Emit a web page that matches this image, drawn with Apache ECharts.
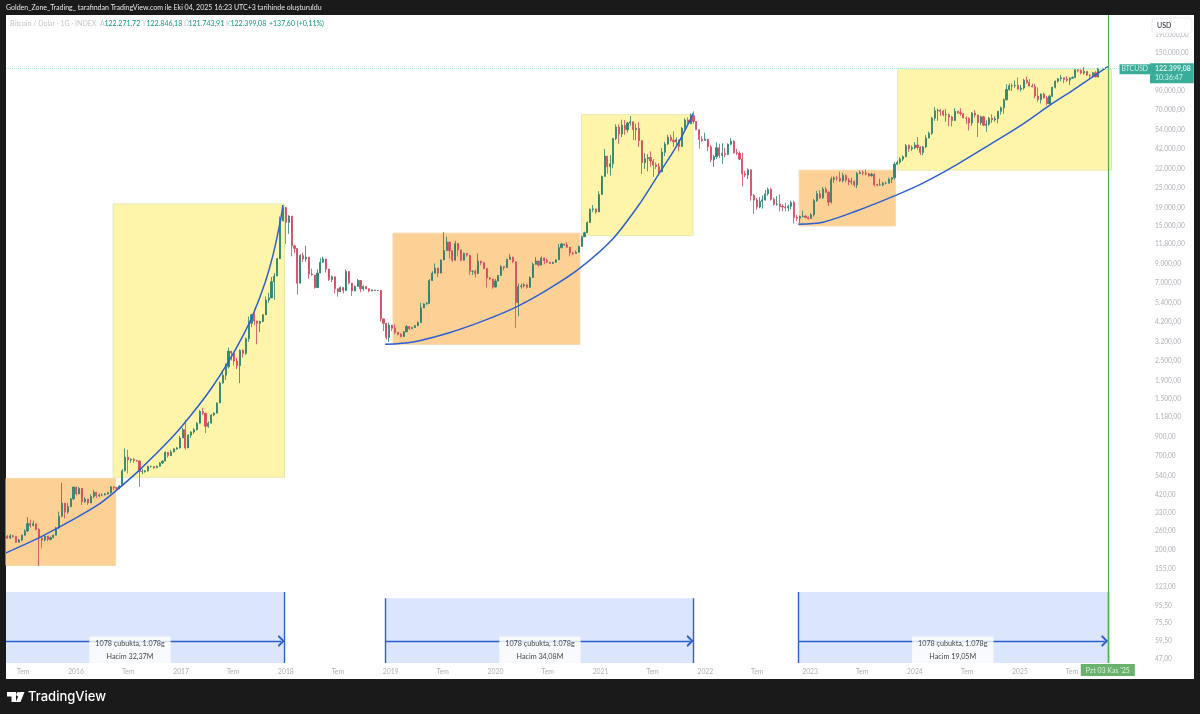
<!DOCTYPE html>
<html>
<head>
<meta charset="utf-8">
<title>BTCUSD</title>
<script src="https://cdn.jsdelivr.net/npm/echarts@6/dist/echarts.min.js"></script>
<style>
html,body{margin:0;padding:0;background:#1a1a1a;}
#main{width:1200px;height:714px;}
</style>
</head>
<body>
<div id="main"></div>
<script>
// 10 day candles, open of a bar is the close of the one before
var firstBar = '2015-05-02';
var firstOpen = 240;
var closes2015 = [235,242,240,222,229,244,258,285,278,284,264,235,229,241,231,236,244,269,314,374,332,357,396,463,423];
var highs2015 = [245,248,245,240,232,246,264,310,300,296,272,268,240,245,235,240,246,273,334,490,340,375,400,465,465];
var lows2015 = [232,232,235,220,222,225,250,255,270,275,260,162,205,225,225,228,237,245,265,310,305,325,355,390,415];
var closes2016 = [455,382,395,375,408,432,413,417,417,422,430,465,460,455,470,575,690,665,670,660,655,570,570,575,610,610,600,612,638,655,735,705,740,770,780,890];
var highs2016 = [465,410,405,395,420,445,430,425,425,428,435,470,465,460,475,590,775,760,680,680,665,660,590,580,615,615,610,615,645,660,745,720,760,775,790,915];
var lows2016 = [425,365,375,365,385,400,400,405,410,415,420,425,445,440,450,470,570,555,640,640,650,465,550,560,570,600,590,598,610,630,680,685,700,735,760,775];
var closes2017 = [995,780,925,965,995,1085,1270,1240,1040,1085,1210,1240,1420,1850,2050,2300,2830,2760,2480,2330,2860,2750,3340,4100,4600,4230,4100,4200,4600,5600,5750,7130,7700,9700,16000,19200,15700];
var highs2017 = [1020,1130,935,975,1015,1100,1290,1330,1120,1110,1225,1255,1430,1890,2190,2400,2980,2790,2590,2590,2900,2900,3400,4480,4650,4980,4200,4250,4620,5860,6150,7600,8000,9800,17000,19800,17400];
var lows2017 = [890,760,870,890,940,985,1180,1210,950,1020,1120,1190,1300,1500,1840,1930,2250,2500,2340,2230,1850,2600,2700,3200,3900,4000,3100,3650,4300,4900,5400,5800,5600,7700,10500,16000,11800];
var closes2018 = [17100,11500,11100,7000,10100,9650,9900,7900,7800,6600,8000,9250,9650,8450,7350,7620,6500,6250,6600,6350,8170,7000,6300,6700,7260,6500,6700,6500,6300,6400,6350,6350,4350,4100,3400,4000];
var highs2018 = [17300,14000,11600,9200,10300,10500,11500,8500,8500,7100,8400,9750,9950,8800,7600,7750,6850,6300,6700,6400,8400,7500,6350,6800,7400,6650,6800,6600,6350,6420,6400,6400,4650,4250,3500,4150];
var lows2018 = [13500,10000,10400,6000,8400,9300,9300,7400,7750,6500,7900,8000,9200,8050,7200,7100,6100,5850,6300,6100,7400,6900,5900,6300,6900,6200,6300,6450,6200,6350,6330,6300,4200,3700,3300,3200];
var closes2019 = [3840,3630,3540,3440,3660,3930,3820,3880,3980,4140,5040,5310,5350,7250,7990,8550,8000,9530,10800,12100,10770,9500,11850,10900,9500,10400,10170,8200,8200,7950,9400,9200,8500,7500,7400,6640,7200];
var highs2019 = [3900,4050,3600,3600,3700,4000,3860,3910,4000,4200,5400,5350,5450,7400,8200,9100,8600,9600,13800,13000,11100,10000,12300,11500,10400,10500,10300,8400,8300,8400,10400,9400,8850,7700,7620,7200,7400];
var lows2019 = [3700,3550,3500,3400,3580,3650,3760,3800,3920,4080,4900,5150,5250,6200,7600,8300,7600,9150,10700,10800,9700,9300,11700,10000,9400,10200,9950,7800,7800,7550,9000,8900,8400,6600,7300,6500,7100];
var closes2020 = [7760,8720,8600,9600,9900,9300,5400,6700,6740,6850,6620,7550,9000,9400,8900,9800,9450,9250,9100,9250,9550,11230,11800,11650,11300,10450,10400,10550,11400,12980,13700,15700,18700,18800,18050,22800,29000];
var highs2020 = [7800,8900,8650,9700,10300,9950,9200,6950,6950,7000,6950,7650,9200,9900,9000,10000,9500,9700,9200,9300,9600,11800,11950,11800,12050,10600,10600,10800,11550,13200,13900,15950,18900,19800,18400,23800,29300];
var lows2020 = [7400,8650,8300,9150,9600,9150,3850,4500,6500,6600,6500,7450,8800,9100,8700,9500,9000,9150,9050,9150,9500,10900,11100,11500,11200,10000,10200,10400,11200,12700,13300,15100,17800,18000,17600,22000,26800];
var closes2021 = [38000,33000,34300,48000,56000,51000,57300,54000,59000,60000,54000,55000,46700,34800,36700,37300,35600,33800,33100,30800,40000,44600,48800,47000,46000,47200,43200,55000,61500,58500,65000,60200,54000,47500,46800,47600];
var highs2021 = [41900,38000,38500,48500,58000,58000,61700,61300,60000,64800,56800,58500,59500,42500,39500,39000,40500,36500,35000,34500,42300,46000,50500,50500,52900,48800,45000,56000,62900,63700,67000,69000,58500,51000,49500,51900];
var lows2021 = [29000,30000,29300,32300,47000,44900,49000,50500,52000,57000,47000,47000,43000,30000,32000,31000,33000,28800,32000,29300,31000,38000,44000,46000,42900,43000,40500,43000,54000,57000,60000,58500,54000,42000,46000,46700];
var closes2022 = [43000,36300,37700,42500,38300,39400,38800,44500,46300,39700,39500,36500,30000,29500,31700,22500,21200,19300,20800,21200,23000,24400,21400,20000,20100,19400,19300,19100,19500,20500,16800,16600,17000,17100,16800,16550,17400];
var highs2022 = [43500,44000,38500,45700,44800,45000,42500,45000,48200,47000,42000,40500,39800,31300,32300,31800,23000,21800,22000,22500,24200,25000,24900,21900,22300,22800,20000,20400,19900,21000,21000,17400,17200,18400,17300,17000,17800];
var lows2022 = [40600,35000,32900,36500,37000,34300,37500,38600,44000,39200,38500,36000,25400,28700,28000,21000,17600,18600,19000,18900,21000,22400,21000,19600,19600,18200,18200,18200,18200,18700,15500,16000,15500,16800,16600,16300,16500];
var closes2023 = [21000,23000,21800,24500,23500,20600,27900,28400,28300,27300,29400,27600,26900,27100,25900,30100,30500,30300,30000,29300,29800,26000,25900,25900,26500,26500,27900,28500,34100,35000,36500,37700,43700,41900,42500,44100];
var highs2023 = [21500,23900,24200,25200,25300,23700,28900,29000,29200,30900,30400,29800,28400,28400,27500,30800,31400,31500,31800,30300,30400,30200,26300,28100,27000,27000,28500,28600,35200,35900,37500,38400,44700,44400,43800,45800];
var lows2023 = [17000,20700,21500,21500,23200,19600,20200,26600,27300,26900,26800,26800,25800,26000,25300,24800,29900,29500,29500,28900,28900,25300,25400,25700,25400,26100,26600,26500,27800,33900,34100,35600,37500,40200,40700,41500];
var closes2024 = [42600,39900,43000,48300,51500,63000,69500,69900,69000,65700,66000,64000,61000,69000,67800,66800,63200,62700,59200,67500,65700,59300,64100,57300,58100,62900,61600,62500,69000,72300,80400,92300,97000,97000,97500,92700,94000];
var highs2024 = [49000,43500,43500,50300,52800,64000,73000,71500,71000,70300,71000,67000,65000,71900,69500,71900,67300,64500,63800,68300,70000,65500,65000,64900,61300,64000,66400,64500,69400,73500,81800,99000,99800,100000,104000,108200,98000];
var lows2024 = [41400,38600,38500,42300,48400,50500,60800,60800,65000,64500,60000,56500,56500,60700,66600,65000,63000,58400,53500,57000,63500,49000,57600,56800,52500,57000,59000,60000,58900,66000,66800,80000,90800,90400,94200,92100,90000];
var closes2025 = [104500,101300,96500,95800,84700,80600,86800,82600,76300,84400,95000,103000,106400,107800,105600,104500,107100,108200,119900,119400,115000,117400,111800,110700,115400,109000,122399];
var highs2025 = [106500,109500,106000,99500,99500,95000,87500,88500,84500,86000,95700,104000,107000,112000,108000,110000,108500,110000,120500,120500,120000,124400,117500,113000,116700,117900,122900];
var lows2025 = [92000,99500,96200,94800,82000,78200,76600,81600,74500,78000,83500,93500,101000,103000,100400,102000,98000,106500,107800,115800,112800,112500,110500,107300,110000,108700,108700];

// blue curves drawn on the chart, read point by point
var curve1 = [['2015-05-02',193],['2015-08-21',234],['2015-10-20',264],['2016-01-15',317],['2016-03-25',373],['2016-05-16',437],['2016-08-04',571],['2016-12-04',910],['2017-02-18',1288],['2017-04-19',1749],['2017-06-14',2443],['2017-08-05',3496],['2017-09-09',4630],['2017-10-21',7085],['2017-11-17',10160],['2017-12-12',15770],['2017-12-22',19770]];
var curve2 = [['2018-12-13',3100],['2019-03-20',3200],['2019-07-27',3630],['2019-12-03',4320],['2020-03-16',5120],['2020-07-09',6550],['2020-10-21',8550],['2021-02-14',12700],['2021-05-19',20310],['2021-07-27',30700],['2021-09-24',43700],['2021-11-09',61400],['2021-11-19',67000]];
var curve3 = [['2022-11-21',15360],['2023-02-15',15760],['2023-06-14',18370],['2023-10-24',22450],['2024-01-29',26520],['2024-05-26',33940],['2024-09-18',44300],['2025-01-11',58220],['2025-04-08',73500],['2025-07-05',91600],['2025-09-02',106600],['2025-11-03',125240]];

// [from, to, low, high]
var orangeBoxes = [['2015-05-02','2016-05-18',163,520],['2019-01-09','2020-10-21',3100,13620],['2022-11-24','2023-10-25',15000,31500]];
var yellowBoxes = [['2016-05-09','2017-12-27',528,20100],['2020-10-27','2021-11-19',13170,66000],['2023-11-02','2025-11-16',31500,121000]];

// date range tools at the bottom: [from, to, top price, arrow price]
var ranges = [['2015-05-02','2017-12-27',114.6,59.6],['2018-12-13','2021-11-20',105.4,59.6],['2022-11-21','2025-11-03',114.6,59.6]];
var rangeLabelDates = ['2016-07-07','2020-06-04','2024-05-12'];
var rangeVolumes = ['32,37','34,08','19,05'];
var rangeLabelPrice = 52.9;

var priceTicks = [190000,150000,90000,70000,54000,42000,32000,25000,19000,15000,11800,9000,7000,5400,4200,3200,2500,1900,1500,1180,900,700,540,420,330,260,200,155,123,95.5,75.5,59.5,47];
var timeTicks = ['2015-07-01','2016-01-01','2016-07-01','2017-01-01','2017-07-01','2018-01-01','2018-07-01','2019-01-01','2019-07-01','2020-01-01','2020-07-01','2021-01-01','2021-07-01','2022-01-01','2022-07-01','2023-01-01','2023-07-01','2024-01-01','2024-07-01','2025-01-01','2025-07-01'];

var lastPrice = 122399.08;
var endDate = '2025-11-03';
var xMin = '2015-05-02', xMax = '2026-03-30';
var yMin = 44.5, yMax = 248800;

var fontName = 'Lato';
var DAY = 86400000;
function t(s){ return Date.parse(s + 'T00:00:00Z'); }
function priceText(v){
    var p = v.toFixed(2).split('.');
    return p[0].replace(/\B(?=(\d{3})+$)/g, '.') + ',' + p[1];
}
function pts(c){ return c.map(function(d){ return [t(d[0]), d[1]]; }); }

var closes = closes2015.concat(closes2016,closes2017,closes2018,closes2019,closes2020,closes2021,closes2022,closes2023,closes2024,closes2025);
var highs = highs2015.concat(highs2016,highs2017,highs2018,highs2019,highs2020,highs2021,highs2022,highs2023,highs2024,highs2025);
var lows = lows2015.concat(lows2016,lows2017,lows2018,lows2019,lows2020,lows2021,lows2022,lows2023,lows2024,lows2025);
var candles = closes.map(function(c, i){
    return [t(firstBar) + (i * 10 + 5) * DAY, i ? closes[i - 1] : firstOpen, c, lows[i], highs[i]];
});

function box(b, fill, border){
    return [{coord:[t(b[0]), b[3]], itemStyle:{color:fill, borderColor:border, borderWidth:1}}, {coord:[t(b[1]), b[2]]}];
}
var areas = [];
orangeBoxes.forEach(function(b){ areas.push(box(b, '#fdd096', '#f3d9a8')); });
yellowBoxes.forEach(function(b){ areas.push(box(b, '#fff5aa', '#e2ebae')); });
ranges.forEach(function(r){
    areas.push([{coord:[t(r[0]), r[2]], itemStyle:{color:'#dbe5fb', borderWidth:0}}, {coord:[t(r[1]), yMin]}]);
});

var chevron = 'path://M10,0 L20,12 L17,14 L10,5.5 L3,14 L0,12 Z';
var lines = [];
ranges.forEach(function(r, i){
    // the chevron is centred on its point, pull it back so the tip meets the edge
    lines.push([{coord:[t(r[0]), r[3]], symbol:'none'}, {coord:[t(r[1]) - 11 * DAY, r[3]], symbol:chevron, symbolSize:[12,7]}]);
    lines.push([{coord:[t(r[1]), r[2]], symbol:'none'}, {coord:[t(r[1]), yMin], symbol:'none'}]);
    if (i > 0) lines.push([{coord:[t(r[0]), r[2]], symbol:'none'}, {coord:[t(r[0]), yMin], symbol:'none'}]);
});
lines.push([
    {coord:[t(xMin), lastPrice], symbol:'none', lineStyle:{color:'#b5e3d9', width:1, type:'dotted'}},
    {coord:[t(xMax), lastPrice], symbol:'none'}
]);
lines.push([
    {coord:[t(endDate), yMin], symbol:'none', lineStyle:{color:'#4caf50', width:1.2, type:'solid'}},
    {coord:[t(endDate), yMax], symbol:'none'}
]);

function curveSeries(c){
    return {type:'line', data:pts(c), smooth:0.3, showSymbol:false, z:4, silent:true,
        lineStyle:{color:'#2d5fd3', width:1.5}};
}

var head = [
    {x:10, text:'Bitcoin / Dolar · 1G · INDEX', fill:'#c4c6cc'},
    {x:100, text:'A', fill:'#c4c6cc'}, {x:104.5, text:'122.271,72', fill:'#089981'},
    {x:142, text:'Y', fill:'#c4c6cc'}, {x:146.5, text:'122.846,18', fill:'#089981'},
    {x:184, text:'D', fill:'#c4c6cc'}, {x:188.5, text:'121.743,91', fill:'#089981'},
    {x:226, text:'K', fill:'#c4c6cc'}, {x:230.5, text:'122.399,08', fill:'#089981'},
    {x:269, text:'+137,60 (+0,11%)', fill:'#089981'}
];
var graphics = [
    {type:'rect', z:-10, shape:{x:6, y:15, width:1188, height:664}, style:{fill:'#ffffff'}},
    {type:'text', x:6, y:8, z:50, style:{text:'Golden_Zone_Trading_ tarafından TradingView.com ile Eki 04, 2025 16:23 UTC+3 tarihinde oluşturuldu', fill:'#e8e8e8', font:'7px ' + fontName, verticalAlign:'middle'}},
    {type:'rect', z:50, shape:{x:1152, y:18, width:40, height:15, r:3}, style:{fill:'#ffffff', stroke:'#eceef2', lineWidth:1}},
    {type:'text', x:1157, y:25.5, z:51, style:{text:'USD', fill:'#131722', font:'7px ' + fontName, verticalAlign:'middle'}},
    // TradingView logo
    {type:'polygon', z:50, shape:{points:[[7,692],[16,692],[16,702],[11.5,702],[11.5,696.5],[7,696.5]]}, style:{fill:'#ffffff'}},
    {type:'circle', z:50, shape:{cx:18.5, cy:694.2, r:2.2}, style:{fill:'#ffffff'}},
    {type:'polygon', z:50, shape:{points:[[20,692],[24.5,692],[20.5,702],[15.8,702]]}, style:{fill:'#ffffff'}},
    {type:'text', x:28, y:697, z:50, style:{text:'TradingView', fill:'#ffffff', font:'500 13px Inter', verticalAlign:'middle'}}
];
head.forEach(function(h){
    graphics.push({type:'text', x:h.x, y:24, z:50, style:{text:h.text, fill:h.fill, font:'7px ' + fontName, verticalAlign:'middle'}});
});

var rangeLabels = rangeLabelDates.map(function(d, i){
    return {
        value:[t(d), rangeLabelPrice],
        label:{formatter:'1078 çubukta, 1.078g\nHacim ' + rangeVolumes[i] + 'M'}
    };
});

var option = {
    backgroundColor:'#1a1a1a',
    animation:false,
    textStyle:{fontFamily:fontName},
    graphic:{elements:graphics},
    grid:{left:6, right:50, top:15, bottom:51},
    xAxis:{
        type:'value', min:t(xMin), max:t(xMax), scale:true,
        splitLine:{show:false}, axisLine:{show:false}, axisTick:{show:false},
        axisLabel:{
            customValues:timeTicks.map(t), color:'#aeb1b8', fontSize:6.8, margin:5, hideOverlap:false,
            showMinLabel:true, showMaxLabel:true,
            formatter:function(v){
                var d = new Date(v);
                return d.getUTCMonth() === 0 ? String(d.getUTCFullYear()) : 'Tem';
            }
        }
    },
    yAxis:{
        type:'log', logBase:10, position:'right', min:yMin, max:yMax,
        splitLine:{show:false}, axisLine:{show:false}, axisTick:{show:false},
        axisLabel:{customValues:priceTicks, color:'#aeb1b8', fontSize:6.6, margin:5, formatter:priceText}
    },
    series:[
        {
            type:'line', data:[], silent:true, z:1,
            markArea:{silent:true, data:areas},
            markLine:{
                silent:true, animation:false, symbol:'none', label:{show:false},
                lineStyle:{color:'#2d5fd3', width:1.4, type:'solid'}, data:lines
            }
        },
        {
            type:'candlestick', data:candles, barWidth:1.6, z:3, silent:true,
            itemStyle:{color:'#1f8f76', color0:'#dd4a63', borderColor:'#2a7f6c', borderColor0:'#d5465f', borderWidth:0.8}
        },
        curveSeries(curve1), curveSeries(curve2), curveSeries(curve3),
        {
            type:'scatter', symbolSize:0, z:6, silent:true, data:rangeLabels,
            label:{
                show:true, position:'inside', align:'center', verticalAlign:'middle', color:'#111', fontSize:7.2,
                lineHeight:13, backgroundColor:'#ffffff', padding:[1,6,0,6], fontFamily:fontName
            }
        },
        {
            type:'scatter', symbolSize:0, z:7, silent:true,
            data:[
                {value:[t(xMax), lastPrice], label:{
                    show:true, position:'right', distance:0, offset:[0,5], formatter:'{p|122.399,08}\n{c|10:36:47}',
                    backgroundColor:'#089981', padding:[1,3,1,5],
                    rich:{p:{color:'#fff', fontSize:7, lineHeight:9, fontWeight:'bold'}, c:{color:'#fff', fontSize:7, lineHeight:9}}
                }},
                {value:[t(xMax), lastPrice], label:{
                    show:true, position:'left', distance:0, offset:[0,1], formatter:'BTCUSD',
                    color:'#fff', fontSize:6.8, backgroundColor:'#089981', padding:[2,2,1,2]
                }},
                {value:[t(endDate), yMin], label:{
                    show:true, position:'bottom', distance:1, formatter:"Pzt 03 Kas '25",
                    color:'#fff', fontSize:7, backgroundColor:'#43a047', padding:[3,5,2,5]
                }}
            ]
        }
    ]
};

var myChart = echarts.init(document.getElementById('main'));
myChart.setOption(option);
</script>
</body>
</html>
